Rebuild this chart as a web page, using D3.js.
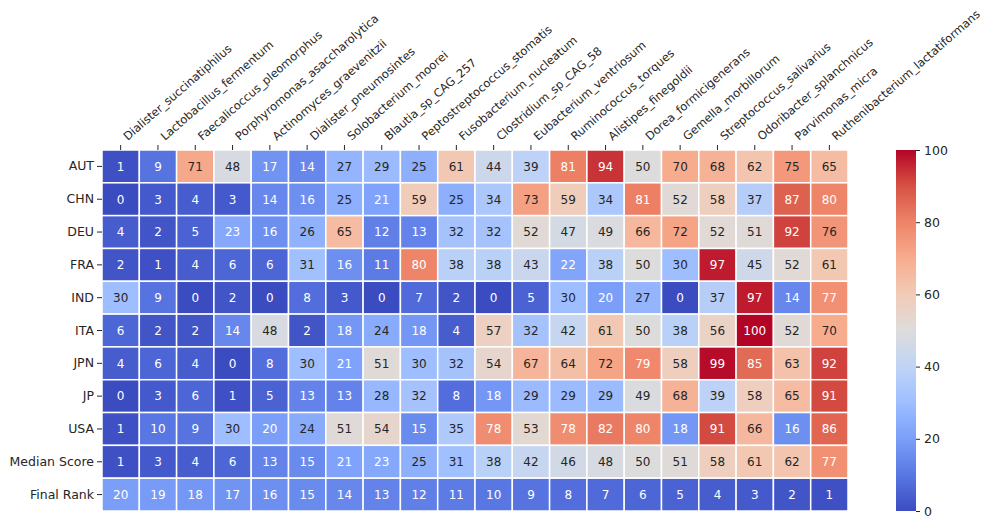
<!DOCTYPE html>
<head>
<meta charset="UTF-8">
<title>Species scores by country</title>
<script src="https://cdnjs.cloudflare.com/ajax/libs/d3/7.8.5/d3.min.js"></script>
<style>
body{margin:0;background:#fff;}
text{font-family:"DejaVu Sans",sans-serif;fill:#262626;}
.tick line{stroke:#262626;}
.domain{display:none;}
</style>
</head>
<body>
<div id="chart"></div>
<script>
var species=["Dialister_succinatiphilus","Lactobacillus_fermentum","Faecalicoccus_pleomorphus","Porphyromonas_asaccharolytica",
"Actinomyces_graevenitzii","Dialister_pneumosintes","Solobacterium_moorei","Blautia_sp_CAG_257","Peptostreptococcus_stomatis",
"Fusobacterium_nucleatum","Clostridium_sp_CAG_58","Eubacterium_ventriosum","Ruminococcus_torques","Alistipes_finegoldii",
"Dorea_formicigenerans","Gemella_morbillorum","Streptococcus_salivarius","Odoribacter_splanchnicus","Parvimonas_micra",
"Ruthenibacterium_lactatiformans"];
var rows=["AUT","CHN","DEU","FRA","IND","ITA","JPN","JP","USA","Median Score","Final Rank"];

var AUT=[1,9,71,48,17,14,27,29,25,61,44,39,81,94,50,70,68,62,75,65];
var CHN=[0,3,4,3,14,16,25,21,59,25,34,73,59,34,81,52,58,37,87,80];
var DEU=[4,2,5,23,16,26,65,12,13,32,32,52,47,49,66,72,52,51,92,76];
var FRA=[2,1,4,6,6,31,16,11,80,38,38,43,22,38,50,30,97,45,52,61];
var IND=[30,9,0,2,0,8,3,0,7,2,0,5,30,20,27,0,37,97,14,77];
var ITA=[6,2,2,14,48,2,18,24,18,4,57,32,42,61,50,38,56,100,52,70];
var JPN=[4,6,4,0,8,30,21,51,30,32,54,67,64,72,79,58,99,85,63,92];
var JP=[0,3,6,1,5,13,13,28,32,8,18,29,29,29,49,68,39,58,65,91];
var USA=[1,10,9,30,20,24,51,54,15,35,78,53,78,82,80,18,91,66,16,86];
var medianScore=[1,3,4,6,13,15,21,23,25,31,38,42,46,48,50,51,58,61,62,77];
var finalRank=[20,19,18,17,16,15,14,13,12,11,10,9,8,7,6,5,4,3,2,1];
var colorbarTicks=[0,20,40,60,80,100];

var values=[AUT,CHN,DEU,FRA,IND,ITA,JPN,JP,USA,medianScore,finalRank];

// matplotlib coolwarm, sampled every 10%
var coolwarm=["#3b4cc0","#5977e3","#7b9ff9","#9ebeff","#c0d4f5","#dddcdc","#f2cbb7","#f7ac8e","#ee8468","#d65244","#b40426"];

var width=982, height=517;
var gLeft=102, gRight=848, gTop=150, gBottom=511; // "top" is taken by window.top

var svg=d3.select("#chart").append("svg").attr("width",width).attr("height",height);

var x=d3.scaleBand().domain(species).range([gLeft,gRight]);
var y=d3.scaleBand().domain(rows).range([gTop,gBottom]);
var color=d3.scaleLinear().domain(d3.range(0,101,10)).range(coolwarm).interpolate(d3.interpolateRgb);

// flatten into cells
var cells=[];
rows.forEach(function(r,i){
  values[i].forEach(function(v,j){ cells.push({row:r,col:species[j],v:v}); });
});

// same rule seaborn uses to pick annotation colour
function lum(c){
  var rgb=d3.rgb(c);
  var f=function(u){u=u/255; return u<=0.03928 ? u/12.92 : Math.pow((u+0.055)/1.055,2.4);};
  return 0.2126*f(rgb.r)+0.7152*f(rgb.g)+0.0722*f(rgb.b);
}

svg.selectAll("rect.cell").data(cells).enter().append("rect")
  .attr("class","cell")
  .attr("x",function(d){return x(d.col);})
  .attr("y",function(d){return y(d.row);})
  .attr("width",x.bandwidth())
  .attr("height",y.bandwidth())
  .attr("fill",function(d){return color(d.v);})
  .attr("stroke","#fff")
  .attr("stroke-width",1.5);

svg.selectAll("text.val").data(cells).enter().append("text")
  .attr("class","val")
  .attr("x",function(d){return x(d.col)+x.bandwidth()/2;})
  .attr("y",function(d){return y(d.row)+y.bandwidth()/2;})
  .attr("dy","0.36em")
  .attr("text-anchor","middle")
  .style("font-size","12px")
  .style("fill",function(d){return lum(color(d.v))>0.408 ? "#262626" : "#fff";})
  .text(function(d){return d.v;});

// row axis
var yAxis=svg.append("g").attr("transform","translate("+gLeft+",0)")
  .call(d3.axisLeft(y).tickSize(5).tickPadding(3));
yAxis.selectAll("text").style("font-size","12.5px");

// column axis on top, rotated labels
var xAxis=svg.append("g").attr("transform","translate(0,"+gTop+")")
  .call(d3.axisTop(x).tickSize(5));
xAxis.selectAll("text")
  .style("font-size","11.5px")
  .attr("text-anchor","start")
  .attr("transform","translate(7,-9) rotate(-41)")
  .attr("x",0).attr("y",0).attr("dy",0);

// colorbar
var cbX=896, cbW=20;
var cb=d3.scaleLinear().domain([0,100]).range([gBottom,gTop]);
var grad=svg.append("defs").append("linearGradient").attr("id","cw")
  .attr("x1","0").attr("y1","1").attr("x2","0").attr("y2","0");
grad.selectAll("stop").data(d3.range(0,101,10)).enter().append("stop")
  .attr("offset",function(d){return d+"%";})
  .attr("stop-color",function(d){return color(d);});
svg.append("rect").attr("x",cbX).attr("y",gTop).attr("width",cbW).attr("height",gBottom-gTop).attr("fill","url(#cw)");
var cAxis=svg.append("g").attr("transform","translate("+(cbX+cbW)+",0)")
  .call(d3.axisRight(cb).tickValues(colorbarTicks).tickSize(4).tickPadding(4));
cAxis.selectAll("text").style("font-size","12.5px");
</script>
</body>
</html>
